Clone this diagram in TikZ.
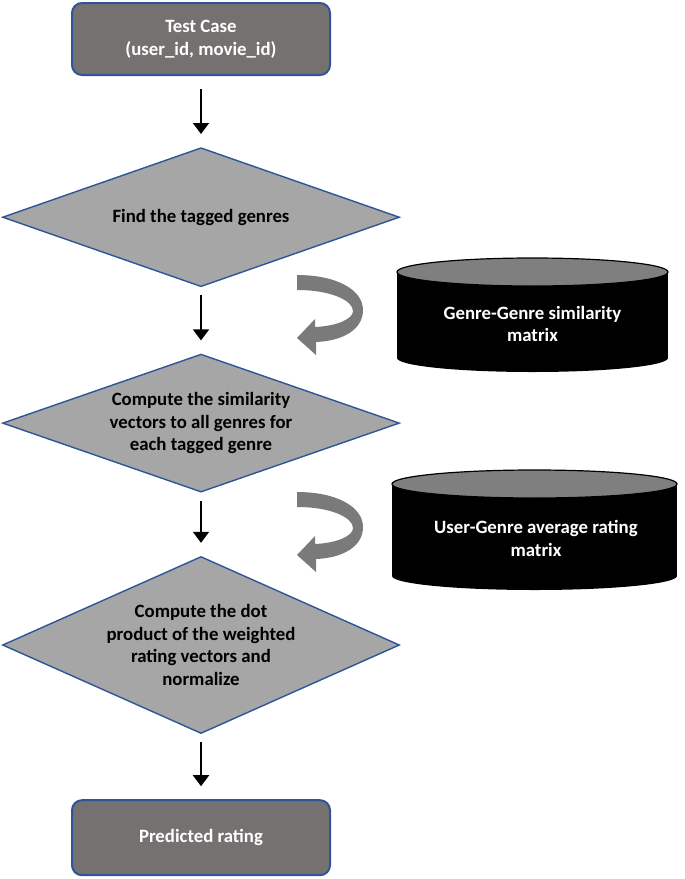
\documentclass[tikz,border=0pt]{standalone}
\usepackage{fontspec}
\setmainfont{Carlito}
\usetikzlibrary{arrows.meta, positioning, shapes.geometric}

\definecolor{boxgray}{RGB}{117,113,113}
\definecolor{edgeblue}{RGB}{47,85,151}
\definecolor{diagray}{RGB}{166,166,166}
\definecolor{lidgray}{RGB}{127,127,127}
\definecolor{bendgray}{RGB}{122,122,122}

\begin{document}
\begin{tikzpicture}[
      x=0.5pt, y=-0.5pt,
      node distance=33pt,
      every node/.style={font=\fontsize{9.4}{11.3}\selectfont\bfseries},
      startstop/.style={draw=edgeblue, line width=1pt, rounded corners=5pt, fill=boxgray, text=white,
        align=center, minimum width=129pt, minimum height=37pt},
      decision/.style={diamond, draw=edgeblue, line width=0.7pt, fill=diagray, align=center,
        inner sep=0pt, minimum width=198.5pt},
      dblabel/.style={text=white, align=center},
      flow/.style={-{Triangle[width=8pt, length=5.5pt]}, line width=0.9pt, shorten <=4pt, shorten >=6.5pt},
      bendfill/.style={fill=bendgray}
    ]
    \useasboundingbox (0,0) rectangle (685,879);

    % main chain
    \node[startstop, minimum height=36pt] (testcase) at (201,39) {Test Case\\(user\_id, movie\_id)};
    \node[decision, aspect=2.84, minimum height=69.5pt, below=35.5pt of testcase] (findgenres) {Find the tagged genres};
    \node[decision, aspect=2.86, minimum height=69pt, below=33pt of findgenres] (simvec)
      {Compute the similarity\\vectors to all genres for\\each tagged genre};
    \node[decision, aspect=2.23, minimum height=88.5pt, below=31.5pt of simvec] (dotprod)
      {Compute the dot\\product of the weighted\\rating vectors and\\normalize};
    \node[startstop, minimum height=37.5pt, below=32.5pt of dotprod] (predicted) {Predicted rating};

    \draw[flow, shorten <=6.5pt] (testcase) -- (findgenres);
    \draw[flow] (findgenres) -- (simvec);
    \draw[flow] (simvec) -- (dotprod);
    \draw[flow] (dotprod) -- (predicted);

    % databases
    \fill[black] (532.5,358) ellipse[x radius=135.5, y radius=14];
    \fill[black] (397,272) rectangle (668,358);
    \draw[fill=lidgray, line width=0.6pt] (532.5,272) ellipse[x radius=135.5, y radius=14];
    \node[dblabel] (ggsim) at (532.5,324) {Genre-Genre similarity\\matrix};

    \fill[black] (534.5,576) ellipse[x radius=142.5, y radius=14];
    \fill[black] (392,484) rectangle (677,576);
    \draw[fill=lidgray, line width=0.6pt] (534.5,484) ellipse[x radius=142.5, y radius=14];
    \node[dblabel] (ugavg) at (536,538.5) {User-Genre average rating\\matrix};

    % curved arrows
    \foreach \ay in {275,492}
      \fill[bendfill, shift={(297,\ay)}] (0,0) .. controls (40,0) and (66,15) .. (66,35)
        .. controls (66,55) and (45,66) .. (19,67) -- (19,80) -- (0,63) -- (18,44) -- (18,52)
        .. controls (40,51) and (56,44) .. (56,36) .. controls (56,26) and (35,15) .. (0,15) -- cycle;
  \end{tikzpicture}
\end{document}
